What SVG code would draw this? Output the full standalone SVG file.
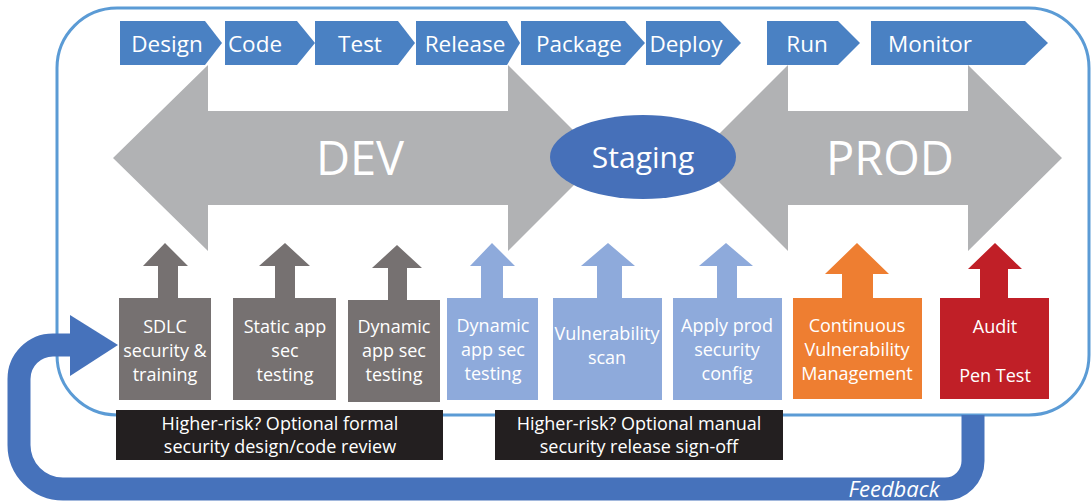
<svg xmlns="http://www.w3.org/2000/svg" width="1092" height="502" viewBox="0 0 1092 502">
<style>
.chev{fill:#4a81c3}
.ct{font-family:"Open Sans","Liberation Sans",sans-serif;font-size:22.5px;fill:#fff;text-anchor:middle}
.big{font-family:"Open Sans","Liberation Sans",sans-serif;font-size:47px;fill:#fff;text-anchor:middle}
.bt{font-family:"Open Sans","Liberation Sans",sans-serif;font-size:18px;fill:#fff;text-anchor:middle}
.gray{fill:#767171}
.lb{fill:#8eaadb}
.or{fill:#ee7e31}
.rd{fill:#c01f27}
.blk{fill:#231f20}
</style>
<rect x="57" y="8" width="1032" height="407" rx="60" ry="60" fill="#fff" stroke="#5b9bd5" stroke-width="3"/>
<g id="dev-arrow">
<polygon fill="#b1b2b4" points="113,158 208,65 208,111 508,111 508,65 601,158 508,251 508,205 208,205 208,251"/>
<text class="big" x="360" y="175">DEV</text>
</g>
<g id="prod-arrow">
<polygon fill="#b1b2b4" points="695,158 788,65 788,111 968,111 968,65 1062,158 968,251 968,205 788,205 788,251"/>
<text class="big" x="890" y="175">PROD</text>
</g>
<g id="staging">
<ellipse cx="643" cy="157" rx="93" ry="42" fill="#4670b9"/>
<text x="643" y="168" font-family="'Open Sans','Liberation Sans',sans-serif" font-size="30" fill="#fff" text-anchor="middle">Staging</text>
</g>
<g id="phases">
<g id="design"><polygon class="chev" points="120,21 205,21 222,43 205,65 120,65"/><text class="ct" x="167" y="52">Design</text></g>
<g id="code"><polygon class="chev" points="225,21 297,21 315,43 297,65 225,65"/><text class="ct" x="255" y="52">Code</text></g>
<g id="test"><polygon class="chev" points="315,21 398,21 415,43 398,65 315,65"/><text class="ct" x="360" y="52">Test</text></g>
<g id="release"><polygon class="chev" points="416,21 507,21 520,43 507,65 416,65"/><text class="ct" x="465" y="52">Release</text></g>
<g id="package"><polygon class="chev" points="521,21 625,21 645,43 625,65 521,65"/><text class="ct" x="579" y="52">Package</text></g>
<g id="deploy"><polygon class="chev" points="646,21 720,21 741,43 720,65 646,65"/><text class="ct" x="686" y="52">Deploy</text></g>
<g id="run"><polygon class="chev" points="767,21 838,21 860,43 838,65 767,65"/><text class="ct" x="807" y="52">Run</text></g>
<g id="monitor"><polygon class="chev" points="871,21 1025,21 1048,43 1025,65 871,65"/><text class="ct" x="930" y="52">Monitor</text></g>
</g>
<g id="sdlc">
<polygon class="gray" points="143,266 165,243 188,266 178,266 178,300 158,300 158,266"/>
<rect class="gray" x="119" y="298" width="92" height="102"/>
<text class="bt" x="165" y="333">SDLC</text><text class="bt" x="165" y="357">security &amp;</text><text class="bt" x="165" y="381">training</text>
</g>
<g id="static">
<polygon class="gray" points="259,266 285,243 310,266 295,266 295,300 275,300 275,266"/>
<rect class="gray" x="233" y="298" width="103" height="102"/>
<text class="bt" x="285" y="333">Static app</text><text class="bt" x="285" y="357">sec</text><text class="bt" x="285" y="381">testing</text>
</g>
<g id="dynamic-dev">
<polygon class="gray" points="372,268 397,245 422,268 407,268 407,302 388,302 388,268"/>
<rect class="gray" x="348" y="300" width="92" height="102"/>
<text class="bt" x="394" y="333">Dynamic</text><text class="bt" x="394" y="357">app sec</text><text class="bt" x="394" y="381">testing</text>
</g>
<g id="dynamic-staging">
<polygon class="lb" points="470,266 492,243 515,266 503,266 503,300 481,300 481,266"/>
<rect class="lb" x="447" y="298" width="91" height="102"/>
<text class="bt" x="493" y="332">Dynamic</text><text class="bt" x="493" y="356">app sec</text><text class="bt" x="493" y="380">testing</text>
</g>
<g id="vuln-scan">
<polygon class="lb" points="581,266 608,243 635,266 622,266 622,300 597,300 597,266"/>
<rect class="lb" x="553" y="298" width="109" height="102"/>
<text class="bt" x="607" y="340">Vulnerability</text><text class="bt" x="607" y="364">scan</text>
</g>
<g id="apply-prod">
<polygon class="lb" points="699,266 726,243 753,266 737,266 737,300 717,300 717,266"/>
<rect class="lb" x="673" y="298" width="109" height="102"/>
<text class="bt" x="727" y="332">Apply prod</text><text class="bt" x="727" y="356">security</text><text class="bt" x="727" y="380">config</text>
</g>
<g id="continuous">
<polygon class="or" points="825,274 857,243 889,274 873,274 873,300 842,300 842,274"/>
<rect class="or" x="793" y="298" width="129" height="101"/>
<text class="bt" x="857" y="332">Continuous</text><text class="bt" x="857" y="356">Vulnerability</text><text class="bt" x="857" y="380">Management</text>
</g>
<g id="audit">
<polygon class="rd" points="968,269 995,243 1022,269 1008,269 1008,300 980,300 980,269"/>
<rect class="rd" x="940" y="298" width="109" height="101"/>
<text class="bt" x="995" y="333">Audit</text><text class="bt" x="995" y="382">Pen Test</text>
</g>
<g id="review">
<rect class="blk" x="116" y="410" width="327" height="50"/>
<text class="bt" x="280" y="430">Higher-risk? Optional formal</text><text class="bt" x="280" y="453">security design/code review</text>
</g>
<g id="signoff">
<rect class="blk" x="495" y="410" width="288" height="50"/>
<text class="bt" x="639" y="430">Higher-risk? Optional manual</text><text class="bt" x="639" y="453">security release sign-off</text>
</g>
<g id="connectors">
<path d="M973,415 L973,461 A28,28 0 0 1 945,489 L63,489 A44,44 0 0 1 19,445 L19,379 A34,34 0 0 1 53,345 L72,345" fill="none" stroke="#4672bb" stroke-width="23"/>
<polygon points="70,315 118,345 70,376" fill="#4672bb"/>
<text x="894" y="497" font-family="'Open Sans','Liberation Sans',sans-serif" font-size="22" font-style="italic" fill="#fff" text-anchor="middle">Feedback</text>
</g>
</svg>
